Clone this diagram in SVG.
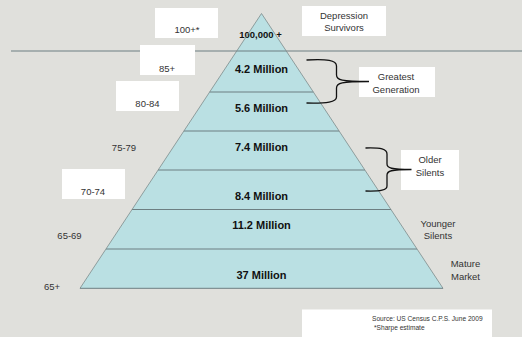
<svg xmlns="http://www.w3.org/2000/svg" width="522" height="337" viewBox="0 0 522 337">
<style>
.band{fill:#bae0e3;stroke:none}
.div{stroke:#6d7f82;stroke-width:1;fill:none}
.edge{stroke:#7d8b8c;stroke-width:0.8;fill:none}
.big{font-family:"Liberation Sans",Arial,sans-serif;font-weight:bold;font-size:11px;fill:#111;text-anchor:middle}
.lbl{font-family:"Liberation Sans",Arial,sans-serif;font-size:9.5px;fill:#333;text-anchor:middle}
.box{fill:#ffffff;stroke:none}
.brace{stroke:#111;stroke-width:1.3;fill:none}
.src{font-family:"Liberation Sans",Arial,sans-serif;font-size:6.6px;fill:#333}
</style>
<rect x="0" y="0" width="522" height="337" fill="#e0e0dc"/>
<g id="pyramid">
<g id="band-100k"><polygon class="band" points="261.5,13.5 236.7,51 286.3,51"/><text class="big" x="260.5" y="38" style="font-size:9.5px">100,000 +</text></g>
<g id="band-4-2"><polygon class="band" points="236.7,51 286.3,51 313.35,92 209.65,92"/><text class="big" x="261.5" y="73">4.2 Million</text></g>
<g id="band-5-6"><polygon class="band" points="209.65,92 313.35,92 339.1,131 183.9,131"/><text class="big" x="261.5" y="112">5.6 Million</text></g>
<g id="band-7-4"><polygon class="band" points="183.9,131 339.1,131 364.9,170 158.1,170"/><text class="big" x="261.5" y="151">7.4 Million</text></g>
<g id="band-8-4"><polygon class="band" points="158.1,170 364.9,170 391,209.5 132,209.5"/><text class="big" x="261.5" y="200">8.4 Million</text></g>
<g id="band-11-2"><polygon class="band" points="132,209.5 391,209.5 417,249 106,249"/><text class="big" x="261.5" y="229">11.2 Million</text></g>
<g id="band-37"><polygon class="band" points="106,249 417,249 443,288.3 80,288.3"/><text class="big" x="261.5" y="279">37 Million</text></g>
</g>
<g id="connectors">
<line class="div" x1="11" y1="51" x2="522" y2="51"/>
<line class="div" x1="209.65" y1="92" x2="313.35" y2="92"/>
<line class="div" x1="183.9" y1="131" x2="339.1" y2="131"/>
<line class="div" x1="158.1" y1="170" x2="364.9" y2="170"/>
<line class="div" x1="132" y1="209.5" x2="391" y2="209.5"/>
<line class="div" x1="106" y1="249" x2="417" y2="249"/>
<polyline class="edge" points="80,288.3 261.5,13.5 443,288.3"/>
<line class="div" x1="80" y1="288.3" x2="443" y2="288.3"/>
</g>
<g id="age-100"><rect class="box" x="155" y="8" width="63" height="30"/><text class="lbl" x="187" y="33">100+*</text></g>
<g id="age-85"><rect class="box" x="140" y="45" width="55" height="30"/><text class="lbl" x="167" y="71.5">85+</text></g>
<g id="age-80"><rect class="box" x="116" y="81" width="63" height="30"/><text class="lbl" x="147.5" y="107">80-84</text></g>
<g id="age-75"><text class="lbl" x="124" y="151">75-79</text></g>
<g id="age-70"><rect class="box" x="62" y="169" width="63" height="30"/><text class="lbl" x="93" y="195">70-74</text></g>
<g id="age-65-69"><text class="lbl" x="69.5" y="239">65-69</text></g>
<g id="age-65"><text class="lbl" x="52" y="290">65+</text></g>
<g id="depression"><rect class="box" x="302" y="6" width="84" height="30"/><text class="lbl" x="344" y="18.5">Depression</text><text class="lbl" x="344" y="30.5">Survivors</text></g>
<g id="greatest"><rect class="box" x="359" y="67" width="76" height="30"/><text class="lbl" x="396" y="80">Greatest</text><text class="lbl" x="396" y="92.5">Generation</text>
<path class="brace" d="M306.5,60 C327,59 336.5,60 336.5,66 L336.5,75 C336.5,80 341,81.5 369,81.5 M369,81.5 C341,81.5 336.5,83 336.5,88 L336.5,97 C336.5,102 327,103.5 306.5,103"/></g>
<g id="older"><rect class="box" x="401" y="150" width="58" height="40"/><text class="lbl" x="430" y="163">Older</text><text class="lbl" x="430" y="175.5">Silents</text>
<path class="brace" d="M365.5,148 C381,147.5 387,149 387,154 L387,164 C387,168 391,169.5 411.5,169.5 M411.5,169.5 C391,169.5 387,171 387,175 L387,186 C387,190 381,191.5 365.5,191"/></g>
<g id="younger"><text class="lbl" x="438" y="226.5">Younger</text><text class="lbl" x="438" y="239">Silents</text></g>
<g id="mature"><text class="lbl" x="465.5" y="267">Mature</text><text class="lbl" x="465.5" y="280">Market</text></g>
<g id="source"><rect class="box" x="302" y="309.5" width="190" height="27.5"/><text class="src" x="372" y="321">Source: US Census C.P.S. June 2009</text><text class="src" x="374" y="330">*Sharpe estimate</text></g>
</svg>
